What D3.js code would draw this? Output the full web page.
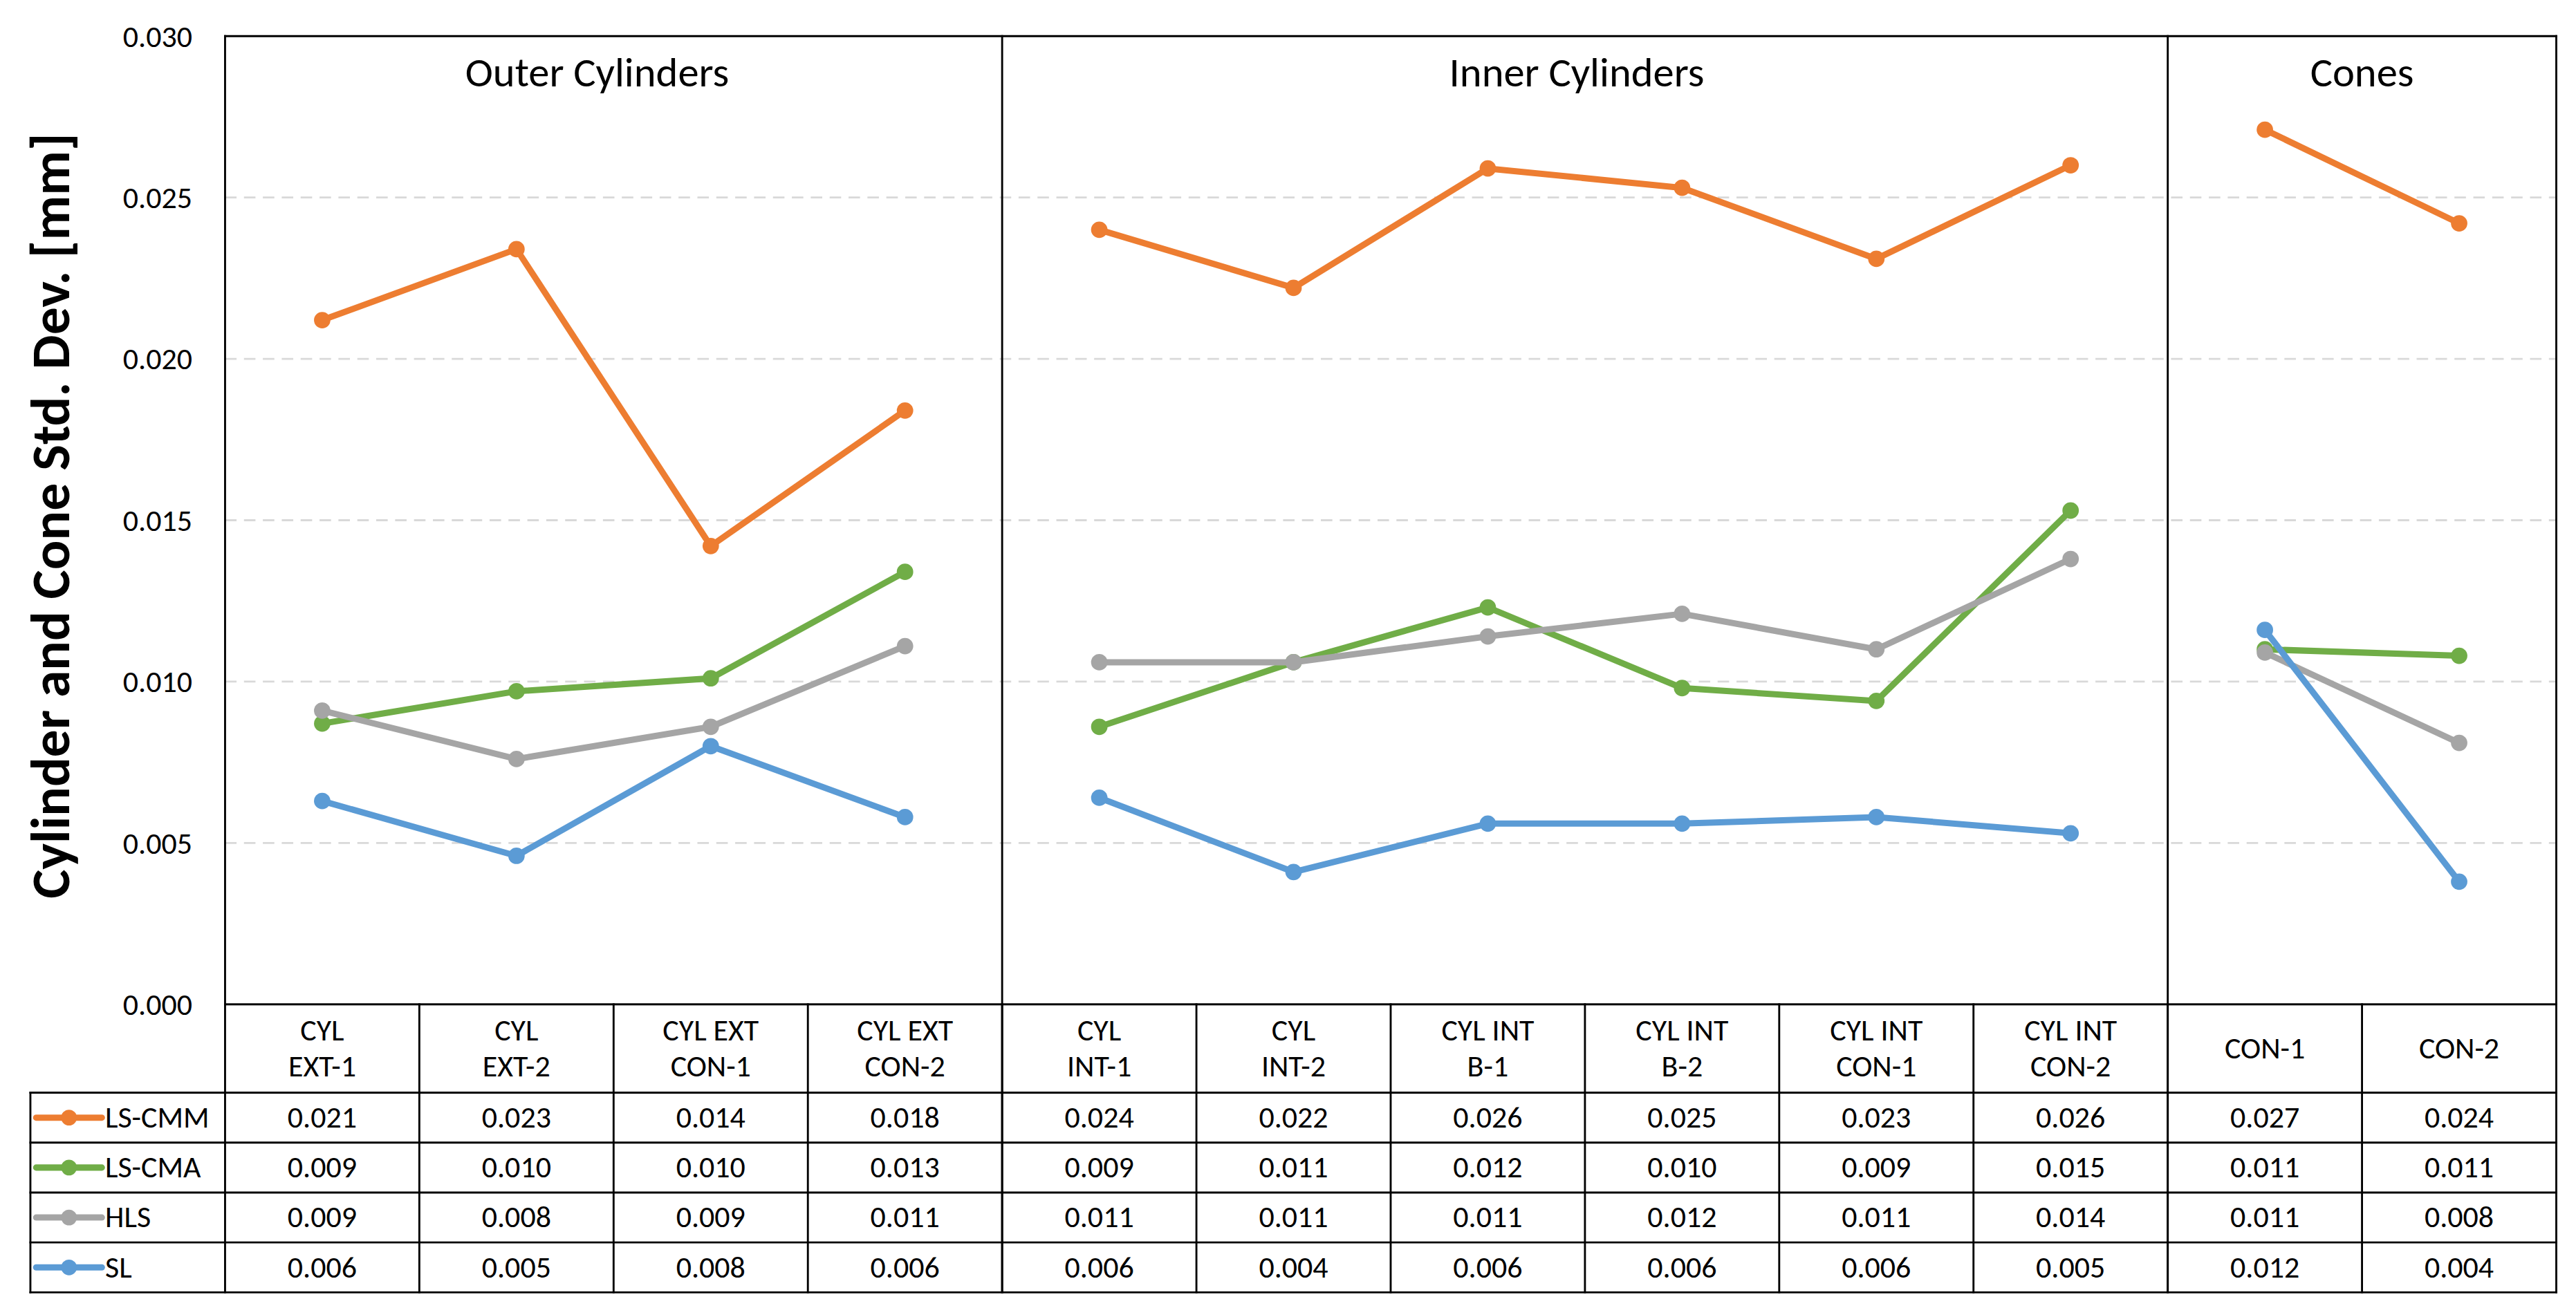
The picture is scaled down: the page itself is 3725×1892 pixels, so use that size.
<!DOCTYPE html>
<html>
<head>
<meta charset="utf-8">
<script src="https://cdn.jsdelivr.net/npm/d3@7"></script>
<style>
  body { margin: 0; background: #fff; }
  svg { display: block; }
  text { font-family: Carlito, Calibri, 'Open Sans', sans-serif; fill: #000; }
</style>
</head>
<body>
<svg id="chart" width="3725" height="1892" viewBox="0 0 1568 796.4"></svg>
<script>
// categories (two-line labels use \n)
const CATEGORIES = [
    'CYL\nEXT-1', 'CYL\nEXT-2', 'CYL EXT\nCON-1', 'CYL EXT\nCON-2',
    'CYL\nINT-1', 'CYL\nINT-2', 'CYL INT\nB-1', 'CYL INT\nB-2', 'CYL INT\nCON-1', 'CYL INT\nCON-2',
    'CON-1', 'CON-2'
];

// groups: name, first category index, count
const GROUP_NAMES = ['Outer Cylinders', 'Inner Cylinders', 'Cones'];
const GROUP_START = [0, 4, 10];
const GROUP_SIZE = [4, 6, 2];

// series
const SERIES_NAMES = ['LS-CMM', 'LS-CMA', 'HLS', 'SL'];
const SERIES_COLORS = ['#ED7D31', '#70AD47', '#A5A5A5', '#5B9BD5'];

const LS_CMM = [0.0212, 0.0234, 0.0142, 0.0184, 0.0240, 0.0222, 0.0259, 0.0253, 0.0231, 0.0260, 0.0271, 0.0242];
const LS_CMA = [0.0087, 0.0097, 0.0101, 0.0134, 0.0086, 0.0106, 0.0123, 0.0098, 0.0094, 0.0153, 0.0110, 0.0108];
const HLS    = [0.0091, 0.0076, 0.0086, 0.0111, 0.0106, 0.0106, 0.0114, 0.0121, 0.0110, 0.0138, 0.0109, 0.0081];
const SL     = [0.0063, 0.0046, 0.0080, 0.0058, 0.0064, 0.0041, 0.0056, 0.0056, 0.0058, 0.0053, 0.0116, 0.0038];
const SERIES_VALUES = [LS_CMM, LS_CMA, HLS, SL];

// y axis ticks
const Y_TICKS = [0, 0.005, 0.010, 0.015, 0.020, 0.025, 0.030];
const Y_LABEL = 'Cylinder and Cone Std. Dev. [mm]';

// layout (viewBox units)
const PLOT_L = 137, PLOT_R = 1556, PLOT_T = 22, PLOT_B = 611.5;
const TABLE_L = 18.5;
const HEADER_B = 665.3;
const ROW_H = 30.4;
const BORDER = 1.2;
const FONT = 18.5;
const TITLE_NUDGE = [-10, -5, 0]; // group titles sit slightly off-centre in the original

const SVG = d3.select('#chart');

const X = d3.scaleBand()
    .domain(d3.range(CATEGORIES.length))
    .range([PLOT_L, PLOT_R])
    .padding(0);
const XC = i => X(i) + X.bandwidth() / 2;

const Y = d3.scaleLinear()
    .domain([0, 0.030])
    .range([PLOT_B, PLOT_T]);

// gridlines
SVG.append('g')
    .selectAll('line')
    .data(Y_TICKS.filter(t => t > 0 && t < 0.030))
    .join('line')
    .attr('x1', PLOT_L)
    .attr('x2', PLOT_R)
    .attr('y1', d => Y(d))
    .attr('y2', d => Y(d))
    .style('stroke', '#d9d9d9')
    .style('stroke-width', 1.2)
    .style('stroke-dasharray', '7,4.5');

// y axis tick labels
const Y_AXIS = d3.axisLeft(Y)
    .tickValues(Y_TICKS)
    .tickFormat(d3.format('.3f'))
    .tickSize(0)
    .tickPadding(20);
const Y_AXIS_G = SVG.append('g')
    .attr('transform', `translate(${PLOT_L}, 0)`)
    .call(Y_AXIS);
Y_AXIS_G.select('.domain').remove();
Y_AXIS_G.selectAll('text')
    .style('font-family', "Carlito, Calibri, 'Open Sans', sans-serif")
    .style('font-size', FONT + 'px')
    .attr('fill', '#000');

// y axis title
SVG.append('text')
    .attr('transform', `translate(42, 314) rotate(-90)`)
    .attr('text-anchor', 'middle')
    .style('font-size', '33.5px')
    .style('font-weight', 'bold')
    .text(Y_LABEL);

// group titles
GROUP_NAMES.forEach((name, g) => {
    const x0 = X(GROUP_START[g]);
    const x1 = X(GROUP_START[g] + GROUP_SIZE[g] - 1) + X.bandwidth();
    SVG.append('text')
        .attr('x', (x0 + x1) / 2 + TITLE_NUDGE[g])
        .attr('y', 52.5)
        .attr('text-anchor', 'middle')
        .style('font-size', '25.5px')
        .text(name);
});

// series lines, broken at group boundaries
const LINE = d3.line()
    .x(d => XC(d.i))
    .y(d => Y(d.v));

SERIES_VALUES.forEach((vals, s) => {
    const G = SVG.append('g').attr('id', `series${s}`);
    GROUP_NAMES.forEach((name, g) => {
        const pts = d3.range(GROUP_START[g], GROUP_START[g] + GROUP_SIZE[g]).map(i => ({ i, v: vals[i] }));
        G.append('path')
            .datum(pts)
            .attr('d', LINE)
            .style('fill', 'none')
            .style('stroke', SERIES_COLORS[s])
            .style('stroke-width', 3.8)
            .style('stroke-linejoin', 'round');
    });
    G.selectAll('circle')
        .data(vals)
        .join('circle')
        .attr('cx', (d, i) => XC(i))
        .attr('cy', d => Y(d))
        .attr('r', 5)
        .style('fill', SERIES_COLORS[s]);
});

// frame + table lines
const FRAME = SVG.append('g')
    .style('stroke', '#000')
    .style('stroke-width', BORDER)
    .style('stroke-linecap', 'square');

const TABLE_B = HEADER_B + ROW_H * SERIES_NAMES.length;

// top border
FRAME.append('line').attr('x1', PLOT_L).attr('x2', PLOT_R).attr('y1', PLOT_T).attr('y2', PLOT_T);
// left / right / group dividers run from top to table bottom
[PLOT_L, PLOT_R, ...GROUP_START.slice(1).map(i => X(i))].forEach(x => {
    FRAME.append('line').attr('x1', x).attr('x2', x).attr('y1', PLOT_T).attr('y2', TABLE_B);
});
// column dividers inside table
d3.range(1, CATEGORIES.length).forEach(i => {
    FRAME.append('line').attr('x1', X(i)).attr('x2', X(i)).attr('y1', PLOT_B).attr('y2', TABLE_B);
});
// table left edge
FRAME.append('line').attr('x1', TABLE_L).attr('x2', TABLE_L).attr('y1', HEADER_B).attr('y2', TABLE_B);
// baseline
FRAME.append('line').attr('x1', PLOT_L).attr('x2', PLOT_R).attr('y1', PLOT_B).attr('y2', PLOT_B);
// row lines
d3.range(SERIES_NAMES.length + 1).forEach(r => {
    const y = HEADER_B + r * ROW_H;
    FRAME.append('line').attr('x1', TABLE_L).attr('x2', PLOT_R).attr('y1', y).attr('y2', y);
});

// category labels in header row
CATEGORIES.forEach((cat, i) => {
    const lines = cat.split('\n');
    const midY = (PLOT_B + HEADER_B) / 2;
    const t = SVG.append('text')
        .attr('text-anchor', 'middle')
        .style('font-size', FONT + 'px');
    lines.forEach((ln, k) => {
        t.append('tspan')
            .attr('x', XC(i))
            .attr('y', midY + (k - (lines.length - 1) / 2) * 22 + 6)
            .text(ln);
    });
});

// table rows: legend key + values
const FMT = d3.format('.3f');
SERIES_NAMES.forEach((name, s) => {
    const cy = HEADER_B + s * ROW_H + ROW_H / 2;
    SVG.append('line')
        .attr('x1', 22).attr('x2', 62)
        .attr('y1', cy).attr('y2', cy)
        .style('stroke', SERIES_COLORS[s])
        .style('stroke-width', 3.8)
        .style('stroke-linecap', 'round');
    SVG.append('circle')
        .attr('cx', 42).attr('cy', cy).attr('r', 4.8)
        .style('fill', SERIES_COLORS[s]);
    SVG.append('text')
        .attr('x', 64)
        .attr('y', cy + 6)
        .style('font-size', FONT + 'px')
        .text(name);
    SVG.append('g')
        .selectAll('text')
        .data(SERIES_VALUES[s])
        .join('text')
        .attr('x', (d, i) => XC(i))
        .attr('y', cy + 6)
        .attr('text-anchor', 'middle')
        .style('font-size', FONT + 'px')
        .text(d => FMT(d));
});
</script>
</body>
</html>
